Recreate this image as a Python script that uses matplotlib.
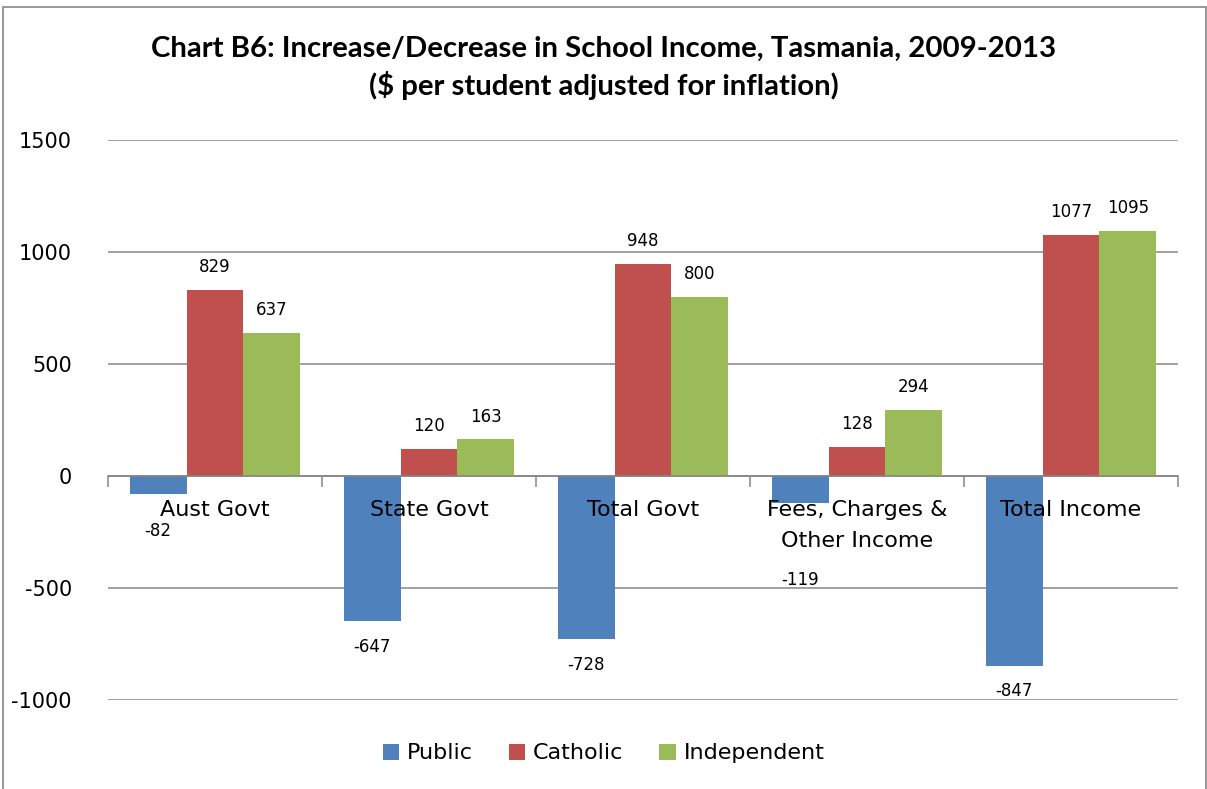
import matplotlib.pyplot as plt
import numpy as np
from matplotlib.patches import Rectangle
from matplotlib.transforms import offset_copy

# income change per student, 2009-2013
categories = ['Aust Govt', 'State Govt', 'Total Govt', 'Fees, Charges &\nOther Income', 'Total Income']
public = [-82, -647, -728, -119, -847]
catholic = [829, 120, 948, 128, 1077]
independent = [637, 163, 800, 294, 1095]

series = [('Public', public, '#4F81BD'),
          ('Catholic', catholic, '#C0504D'),
          ('Independent', independent, '#9BBB59')]

plt.rcParams['font.family'] = ['DejaVu Sans']
plt.rcParams['axes.unicode_minus'] = False

fig = plt.figure(figsize=(12.07, 7.89), dpi=100)
ax = fig.add_axes([0.0895, 0.1128, 0.8865, 0.7098])

x = np.arange(len(categories))
w = 0.266
for i, (name, vals, col) in enumerate(series):
    pos = x + (i - 1) * w
    ax.bar(pos, vals, width=w, color=col, label=name, zorder=2)
    for j, (p, v) in enumerate(zip(pos, vals)):
        if v >= 0:
            ax.annotate(str(v), (p, v), xytext=(0, 10), textcoords='offset points',
                        ha='center', va='bottom', fontsize=12)
        else:
            dy = -12
            if name == 'Public' and j == 0:
                dy = -20
            if name == 'Public' and j == 3:
                dy = -49
            ax.annotate(str(v), (p, v), xytext=(0, dy), textcoords='offset points',
                        ha='center', va='top', fontsize=12)

ax.set_xlim(-0.5, len(categories) - 0.5)
ax.set_ylim(-1000, 1500)
ax.set_yticks([-1000, -500, 0, 500, 1000, 1500])
ax.yaxis.grid(True, color='#868686', linewidth=1.1, zorder=0)
ax.set_axisbelow(True)

for s in ['top', 'right', 'left']:
    ax.spines[s].set_visible(False)
ax.spines['bottom'].set_position(('data', 0))
ax.spines['bottom'].set_color('#868686')
ax.spines['bottom'].set_linewidth(1.1)
ax.spines['bottom'].set_zorder(3)

# boundary ticks on the zero line
ax.set_xticks(np.arange(len(categories) + 1) - 0.5)
ax.set_xticklabels([])
ax.tick_params(axis='x', which='major', length=8, color='#868686', width=1.1, direction='out')
ax.tick_params(axis='y', length=0, labelsize=15, pad=26)

# category names sit under the zero line, on top of the bars
below = offset_copy(ax.transData, fig=fig, x=0, y=-24, units='dots')
for xi, name in zip(x, categories):
    ax.text(xi, 0, name, transform=below, ha='center', va='top', fontsize=16,
            linespacing=1.7, zorder=5)

fig.suptitle('Chart B6: Increase/Decrease in School Income, Tasmania, 2009-2013\n'
             '($ per student adjusted for inflation)',
             x=0.5, y=0.955, fontsize=21.2, fontweight='bold', family='Lato', linespacing=1.4)

fig.legend(loc='center', bbox_to_anchor=(0.5, 0.045), ncol=3, frameon=False,
           fontsize=16, handlelength=0.75, handleheight=0.75, handletextpad=0.35,
           columnspacing=1.6)

fig.patches.append(Rectangle((3 / 1207, -0.01), 1203 / 1207, 1 - 7 / 789 + 0.01,
                             transform=fig.transFigure, fill=False,
                             edgecolor='#868686', linewidth=1.2))

fig.savefig('out.png', dpi=100)
